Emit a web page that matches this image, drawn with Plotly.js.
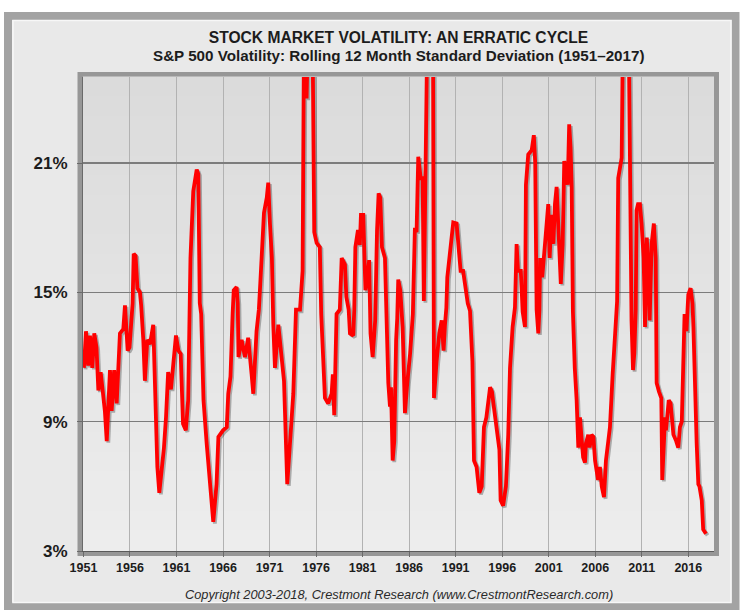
<!DOCTYPE html>
<html>
<head>
<meta charset="utf-8">
<script src="https://cdn.plot.ly/plotly-3.0.1.min.js"></script>
<style>html,body{margin:0;padding:0;background:#fff;}#chart{width:743px;height:610px;}</style>
</head>
<body>
<div id="chart"></div>
<script>
// ---- Data ----
const years = [
1951.05,1951.27,1951.5,1951.7,1951.95,1952.16,1952.4,1952.6,1952.85,1953.06,1953.3,1953.5,1953.67,1953.85,1954.03,1954.3,1954.57,1954.74,1954.92,1955.28,1955.46,1955.75,1955.95,
1956.28,1956.4,1956.6,1956.8,1957.07,1957.2,1957.43,1957.6,1957.86,1958.15,1958.5,1958.7,1958.94,1959.15,1959.4,1959.65,1959.87,1960.1,1960.4,1960.65,1960.94,
1961.2,1961.45,1961.7,1962.0,1962.25,1962.35,1962.5,1962.8,1963.17,1963.34,1963.5,1963.65,1963.9,1964.24,1964.6,1964.95,1965.3,1965.5,1966.0,1966.4,1966.56,1966.8,
1967.03,1967.15,1967.46,1967.58,1967.66,1968.0,1968.36,1968.7,1969.07,1969.25,1969.6,1969.85,1970.0,1970.15,1970.4,1970.7,1970.86,1971.04,1971.25,1971.4,1971.58,1971.94,
1972.3,1972.55,1972.9,1973.2,1973.55,1973.84,1974.27,1974.55,1974.7,1974.88,1974.98,1975.1,1975.35,1975.62,1975.72,1975.8,1976.06,1976.4,1976.55,1976.95,
1977.3,1977.67,1977.8,1977.95,1978.2,1978.55,1978.75,1979.1,1979.25,1979.5,1979.64,1980.0,1980.1,1980.22,1980.5,1980.7,1980.82,1981.07,1981.3,1981.5,1981.7,1981.85,
1982.08,1982.35,1982.55,1982.72,1982.9,1983.08,1983.4,1983.58,1983.76,1983.94,1984.05,1984.23,1984.4,1984.6,1984.72,1984.83,1985.05,1985.3,1985.55,1985.8,
1986.1,1986.4,1986.5,1986.62,1986.8,1986.98,1987.24,1987.45,1987.58,1987.72,1988.1,1988.55,1988.67,1988.95,1989.24,1989.5,1989.7,1989.85,1990.0,1990.1,1990.4,1990.74,
1991.1,1991.28,1991.53,1991.8,1992.0,1992.3,1992.54,1992.8,1992.97,1993.25,1993.54,1993.8,1994.04,1994.3,1994.7,1994.9,1995.1,1995.4,1995.7,1995.83,
1996.1,1996.4,1996.65,1996.84,1997.12,1997.37,1997.55,1997.7,1998.0,1998.2,1998.45,1998.55,1998.8,1999.17,1999.4,1999.55,1999.62,1999.7,1999.88,2000.0,
2000.08,2000.3,2000.6,2000.78,2000.95,2001.1,2001.3,2001.5,2001.67,2001.85,2002.03,2002.3,2002.5,2002.67,2002.85,2003.04,2003.2,2003.35,2003.47,2003.6,2003.8,
2004.0,2004.18,2004.36,2004.5,2004.7,2004.9,2005.0,2005.25,2005.4,2005.6,2005.8,2005.98,2006.15,2006.3,2006.5,2006.7,2006.94,2007.15,2007.4,2007.58,2007.87,
2008.0,2008.2,2008.35,2008.47,2008.84,2009.0,2009.3,2009.6,2009.68,2009.78,2009.9,2010.06,2010.2,2010.35,2010.44,2010.6,2010.8,2010.98,2011.2,2011.35,2011.54,2011.7,2011.85,
2012.06,2012.3,2012.5,2012.6,2012.85,2013.1,2013.2,2013.35,2013.5,2013.6,2013.9,2014.1,2014.4,2014.7,2014.92,2015.1,2015.3,2015.45,2015.6,2015.8,
2016.0,2016.25,2016.45,2016.55,2016.7,2016.9,2017.08,2017.2,2017.45,2017.6,2017.9
];
const volatility = [
11.5,13.2,11.6,13.0,11.5,13.1,12.45,10.45,11.3,10.45,9.5,8.1,9.4,11.4,9.5,11.4,9.85,11.7,13.1,13.3,14.4,12.3,12.45,
14.5,16.8,16.7,15.2,15.0,14.4,12.8,10.9,12.8,12.6,13.5,10.8,6.9,5.7,6.6,7.8,9.2,11.3,10.5,11.8,13.0,
12.3,12.15,8.9,8.6,10.0,13.7,16.6,19.7,20.7,20.5,14.5,14.0,10.0,8.0,6.0,4.35,6.1,8.3,8.6,8.75,10.3,11.1,
14.0,15.1,15.25,14.5,12.0,12.8,12.0,12.9,11.2,10.3,13.2,14.2,15.4,16.9,18.7,19.4,20.1,18.2,16.6,13.5,11.5,13.5,
12.15,10.9,6.1,8.1,10.3,14.2,14.2,16.0,27.0,25.5,24.0,26.5,28.0,27.0,18.5,17.8,17.3,17.1,14.0,10.1,
9.85,10.3,11.2,9.3,14.0,14.2,16.6,16.3,14.8,14.2,13.1,13.0,14.2,17.1,17.9,17.2,18.6,18.6,15.1,15.6,16.5,13.1,
12.0,13.7,17.9,19.6,19.4,17.1,16.6,13.4,10.8,9.7,10.6,7.2,8.1,12.8,13.8,15.6,15.1,13.4,9.4,10.8,
12.15,14.0,15.4,18.0,17.8,21.3,20.3,20.3,14.6,30.0,32.0,29.0,10.1,11.8,13.1,13.7,12.3,13.5,14.3,15.7,16.9,18.25,
18.2,17.25,16.0,16.0,15.4,14.5,14.15,11.8,7.2,6.9,5.7,6.0,8.75,9.2,10.6,10.4,9.7,8.75,7.7,5.35,
5.1,6.0,8.4,11.5,13.4,14.3,17.25,16.0,16.0,14.1,13.4,20.0,21.4,21.6,22.3,21.0,15.0,14.2,13.1,14.2,
16.6,15.7,17.25,18.2,19.1,16.6,18.6,17.25,19.1,19.9,18.0,15.4,17.25,21.1,20.7,20.0,22.8,21.7,19.9,14.1,11.5,
10.0,7.8,9.2,8.4,7.35,7.1,8.0,8.4,7.8,8.4,8.3,7.2,6.6,6.3,6.9,6.0,5.5,7.2,8.1,8.75,11.2,
12.0,13.7,14.6,20.3,21.25,28.0,30.0,27.0,22.3,20.3,13.7,11.4,12.2,14.2,18.8,19.1,19.1,18.2,16.6,13.4,17.55,16.2,13.7,
17.25,18.2,16.6,10.8,10.4,10.1,6.3,8.4,9.2,8.6,10.0,9.85,8.4,8.1,7.8,8.75,9.0,11.5,14.0,13.2,
14.9,15.2,14.5,13.4,10.3,8.0,6.1,6.0,5.35,4.0,3.8
];
const xTickYears = [1951,1956,1961,1966,1971,1976,1981,1986,1991,1996,2001,2006,2011,2016];
const yTickValues = [3,9,15,21];
const yTickLabels = ['3%','9%','15%','21%'];
const titleText = 'STOCK MARKET VOLATILITY: AN ERRATIC CYCLE';
const subtitleText = 'S&P 500 Volatility: Rolling 12 Month Standard Deviation (1951–2017)';
const copyrightText = 'Copyright 2003-2018, Crestmont Research (www.CrestmontResearch.com)';

// ---- Layout geometry ----
const W = 743, H = 610;
const M = {l: 83, r: 29, t: 77, b: 59};
const PW = W - M.l - M.r, PH = H - M.t - M.b;
const xRange = [1950.95, 1950.95 + PW / 9.305];
const yRange = [3, 25];
const px = v => (v - M.l) / PW;          // pixel -> paper x
const py = v => (H - M.b - v) / PH;      // pixel -> paper y
const FONT = 'Liberation Sans, Arial, sans-serif';

// shadow offset (in data units) for the soft drop shadow under the red line
const dx = 1.6 / (PW / (xRange[1] - xRange[0]));
const dy = 1.6 / (PH / (yRange[1] - yRange[0]));

const shapes = [];
// outer framed panel
shapes.push({type:'rect', xref:'paper', yref:'paper', layer:'below',
  x0: px(8), x1: px(735.5), y0: py(16), y1: py(606.5),
  line:{color:'#a3a3a3', width:8}, fillcolor:'#e9e9e9'});
shapes.push({type:'rect', xref:'paper', yref:'paper', layer:'below',
  x0: px(13), x1: px(731), y0: py(20.5), y1: py(602.5),
  line:{color:'#f7f7f7', width:1.5}, fillcolor:'rgba(0,0,0,0)'});
// plot frame (grey band round the plot area)
shapes.push({type:'rect', xref:'paper', yref:'paper', layer:'below',
  x0: px(80), x1: px(716.5), y0: py(74.5), y1: py(553.5),
  line:{color:'#979797', width:5}, fillcolor:'rgba(0,0,0,0)'});
// plot background gradient (top darker, bottom lighter)
const bands = 24;
for (let i = 0; i < bands; i++) {
  const t = i / (bands - 1);
  const c = Math.round(0xdb + (0xed - 0xdb) * t);
  const y0p = M.t + PH * i / bands, y1p = M.t + PH * (i + 1) / bands;
  shapes.push({type:'rect', xref:'paper', yref:'paper', layer:'below',
    x0: 0, x1: 1, y0: py(y1p) - 0.001, y1: py(y0p) + 0.001,
    line:{width:0}, fillcolor:`rgb(${c},${c},${c})`});
}

const traces = [
  // anchor trace on the main axes (invisible) so the gridded axes are drawn
  {x: years, y: volatility, xaxis:'x', yaxis:'y', type:'scatter', mode:'lines',
   line:{color:'rgba(0,0,0,0)', width:1}, hoverinfo:'skip', showlegend:false},
  // soft drop shadow
  {x: years, y: volatility, xaxis:'x2', yaxis:'y2', type:'scatter', mode:'lines',
   line:{color:'rgba(40,40,40,0.33)', width:3.8}, hoverinfo:'skip', showlegend:false},
  // the red volatility line
  {x: years, y: volatility, xaxis:'x3', yaxis:'y3', type:'scatter', mode:'lines',
   line:{color:'#ff0000', width:3.8}, showlegend:false}
];

const hiddenAxis = (overlay, range) => ({overlaying: overlay, range: range, visible:false,
  showgrid:false, zeroline:false, fixedrange:true});

const layout = {
  width: W, height: H,
  margin: {l: M.l, r: M.r, t: M.t, b: M.b, pad: 0},
  paper_bgcolor: '#ffffff',
  plot_bgcolor: '#e4e4e4',
  showlegend: false,
  title: {text: titleText, xref:'paper', x:0.5, xanchor:'center',
          yref:'container', y: 1 - 38 / H, yanchor:'middle',
          font:{family: FONT, size: 15.6, weight: 'bold', color:'#1c1c1c'}},
  xaxis: {range: xRange, tickmode:'array', tickvals: xTickYears, ticktext: xTickYears.map(String),
          showgrid:true, gridcolor:'#b2b2b2', gridwidth:1, zeroline:false,
          ticks:'outside', ticklen:5, tickcolor:'#6a6a6a', tickwidth:1,
          showline:true, linecolor:'#5a5a5a', linewidth:1.2,
          tickfont:{family: FONT, size: 12.5, weight:'bold', color:'#1c1c1c'}, fixedrange:true},
  yaxis: {range: yRange, tickmode:'array', tickvals: yTickValues, ticktext: yTickLabels,
          showgrid:true, gridcolor:'#7c7c7c', gridwidth:1.5, zeroline:false,
          ticks:'outside', ticklen:5, tickcolor:'#6a6a6a', tickwidth:1,
          showline:true, linecolor:'#6a6a6a', linewidth:1,
          ticklabelstandoff: 6,
          tickfont:{family: FONT, size: 17, weight:'bold', color:'#1c1c1c'}, fixedrange:true},
  xaxis2: hiddenAxis('x', [xRange[0] - dx, xRange[1] - dx]),
  yaxis2: hiddenAxis('y', [yRange[0] + dy, yRange[1] + dy]),
  xaxis3: hiddenAxis('x', xRange),
  yaxis3: hiddenAxis('y', yRange),
  shapes: shapes,
  annotations: [
    {text: subtitleText, xref:'paper', yref:'paper', x:0.5, y: py(55.5), xanchor:'center', yanchor:'middle',
     showarrow:false, font:{family: FONT, size: 15.2, weight:'bold', color:'#1c1c1c'}},
    {text: copyrightText, xref:'paper', yref:'paper', x:0.5, y: py(594), xanchor:'center', yanchor:'middle',
     showarrow:false, font:{family: FONT, size: 12.8, style:'italic', color:'#2a2a2a'}}
  ]
};

Plotly.newPlot('chart', traces, layout, {displayModeBar:false, staticPlot:true});
</script>
</body>
</html>
